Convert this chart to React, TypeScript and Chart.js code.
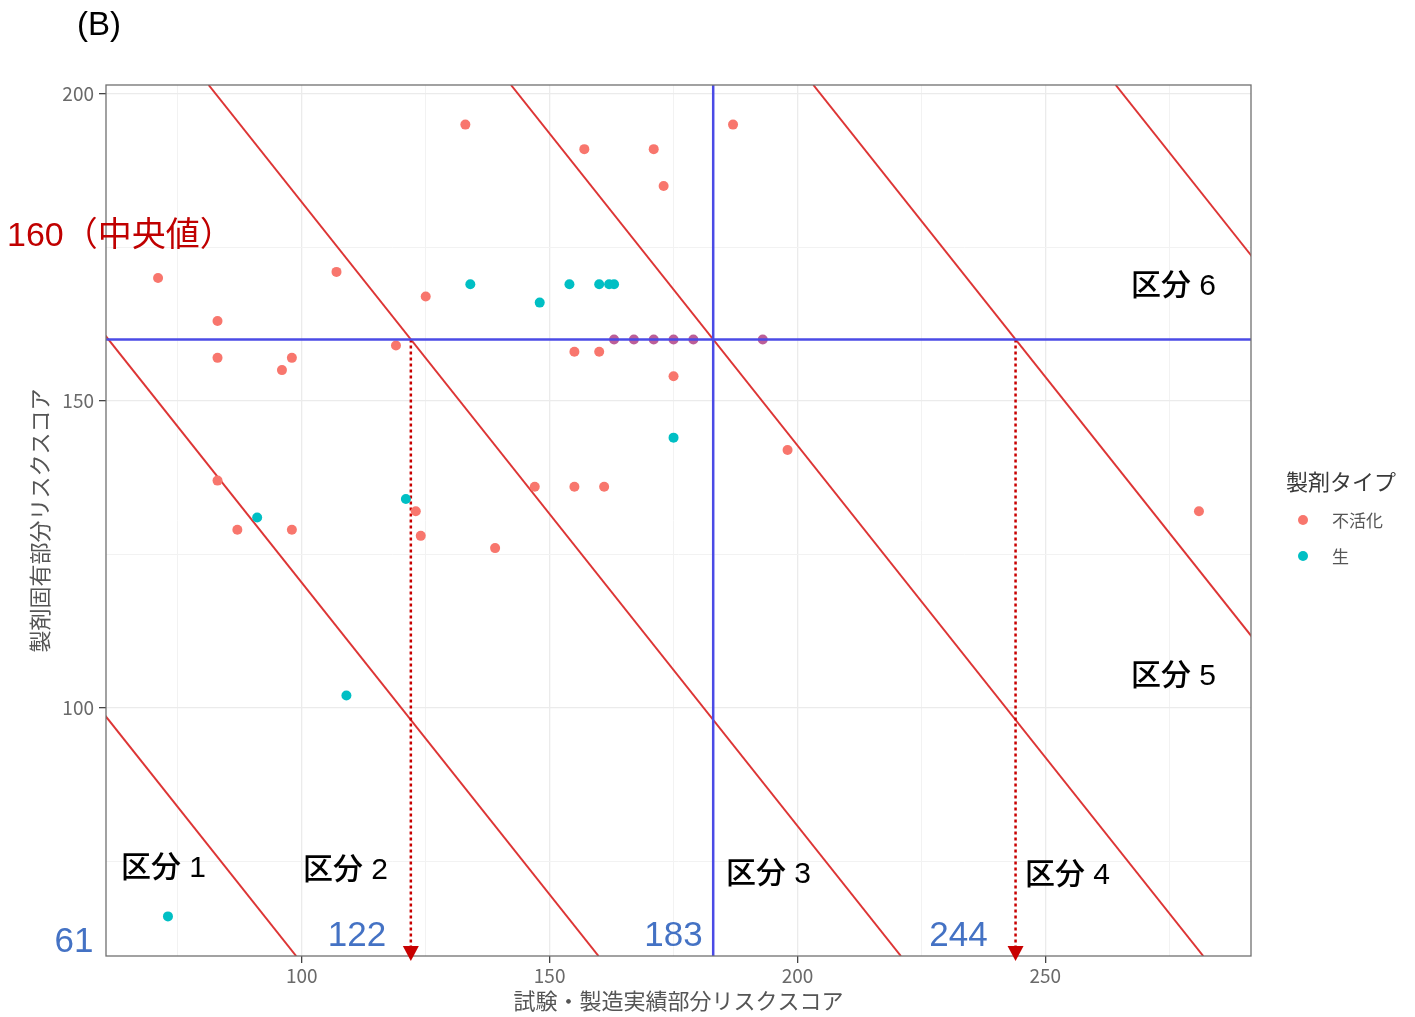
import React, { useEffect, useRef } from "react";
import { Chart, registerables } from "chart.js";

Chart.register(...registerables);

// ---- data ----
const inactivatedX = [133, 71, 107, 125, 83, 119, 83, 98, 96, 187, 157, 171, 173, 163, 167, 171, 175, 179, 193, 155, 160, 175, 83, 87, 98, 123, 124, 139, 198, 147, 155, 161, 281];
const inactivatedY = [195, 170, 171, 167, 163, 159, 157, 157, 155, 195, 191, 191, 185, 160, 160, 160, 160, 160, 160, 158, 158, 154, 137, 129, 129, 132, 128, 126, 142, 136, 136, 136, 132];
const liveX = [134, 154, 160, 162, 163, 148, 91, 121, 175, 109, 73];
const liveY = [169, 169, 169, 169, 169, 166, 131, 134, 144, 102, 66];

const seriesLabels = ["不活化", "生"];
const legendTitle = "製剤タイプ";
const xTitle = "試験・製造実績部分リスクスコア";
const yTitle = "製剤固有部分リスクスコア";
const panelLabel = "(B)";
const medianLabel = "160（中央値）";

const xMajorTicks = [100, 150, 200, 250];
const xMinorTicks = [75, 125, 175, 225, 275];
const yMajorTicks = [100, 150, 200];
const yMinorTicks = [75, 125, 175];

const medianX = 183;
const medianY = 160;
// zone boundary lines: pass through (anchor, medianY) with this slope
const diagonalAnchors = [0, 61, 122, 183, 244, 305];
const diagonalSlope = -1.016;
const boundaryX = [122, 244];
const boundaryLabels = ["61", "122", "183", "244"];
const zoneLabels = ["区分 1", "区分 2", "区分 3", "区分 4", "区分 5", "区分 6"];

// ---- styles ----
const RED = "#F8766D";
const TEAL = "#00BFC4";
const PURPLE = "#BC5E98";
const LINE_RED = "#DD3535";
const BLUE = "#4B4BE6";
const DOT_RED = "#C80000";
const NUM_BLUE = "#4472C4";

const allX = [...inactivatedX, ...liveX];
const allY = [...inactivatedY, ...liveY];
const expand = (arr: number[]) => {
  const lo = Math.min(...arr);
  const hi = Math.max(...arr);
  const pad = (hi - lo) * 0.05;
  return [lo - pad, hi + pad];
};
const [xMin, xMax] = expand(allX);
const [yMin, yMax] = expand(allY);

const toPoints = (xs: number[], ys: number[]) => xs.map((x, i) => ({ x, y: ys[i] }));

const CJK = '"Noto Sans CJK JP", "Noto Sans", sans-serif';
const LAT = '"Liberation Sans", "Noto Sans CJK JP", sans-serif';

const overlayPlugin = {
  id: "overlay",
  afterDraw(chart: any) {
    const { ctx, chartArea, scales } = chart;
    const xs = scales.x;
    ctx.save();
    // panel border
    ctx.strokeStyle = "#707070";
    ctx.lineWidth = 1.3;
    ctx.strokeRect(chartArea.left, chartArea.top, chartArea.right - chartArea.left, chartArea.bottom - chartArea.top);

    // arrow heads
    ctx.fillStyle = DOT_RED;
    boundaryX.forEach((bx) => {
      const px = xs.getPixelForValue(bx);
      const tip = chartArea.bottom + 5;
      ctx.beginPath();
      ctx.moveTo(px - 8, tip - 15);
      ctx.lineTo(px + 8, tip - 15);
      ctx.lineTo(px, tip);
      ctx.closePath();
      ctx.fill();
    });

    // panel label
    ctx.textBaseline = "middle";
    ctx.textAlign = "left";
    ctx.fillStyle = "#000";
    ctx.font = `33px ${LAT}`;
    ctx.fillText(panelLabel, 77, 26);

    // median label
    ctx.fillStyle = "#C00000";
    ctx.font = `34px ${LAT}`;
    ctx.fillText(medianLabel, 7, 237);

    // zone labels
    const zonePos = [
      [121, 869],
      [303, 871],
      [726, 875],
      [1025, 876],
      [1131, 677],
      [1131, 287],
    ];
    ctx.fillStyle = "#000";
    ctx.font = `500 30px ${LAT}`;
    zoneLabels.forEach((t, i) => ctx.fillText(t, zonePos[i][0], zonePos[i][1]));

    // boundary numbers
    const numPos = [
      [74, 942],
      [357, 936],
      [673.5, 936],
      [958.5, 936],
    ];
    ctx.fillStyle = NUM_BLUE;
    ctx.font = `35px ${LAT}`;
    ctx.textAlign = "center";
    boundaryLabels.forEach((t, i) => ctx.fillText(t, numPos[i][0], numPos[i][1]));

    // legend
    ctx.textAlign = "left";
    ctx.fillStyle = "#3a3a3a";
    ctx.font = `22px ${CJK}`;
    ctx.fillText(legendTitle, 1286, 482);
    const colors = [RED, TEAL];
    seriesLabels.forEach((t, i) => {
      const y = 521 + i * 36;
      ctx.fillStyle = colors[i];
      ctx.beginPath();
      ctx.arc(1303, y - 1, 5, 0, Math.PI * 2);
      ctx.fill();
      ctx.fillStyle = "#555";
      ctx.font = `17px ${CJK}`;
      ctx.fillText(t, 1332, y);
    });
    ctx.restore();
  },
};

export default function App() {
  const ref = useRef<HTMLCanvasElement | null>(null);
  useEffect(() => {
    if (!ref.current) return;
    const diagDatasets = diagonalAnchors.map((a) => ({
      type: "line" as const,
      data: [
        { x: a + (yMin - medianY) / diagonalSlope, y: yMin },
        { x: a + (yMax - medianY) / diagonalSlope, y: yMax },
      ],
      borderColor: LINE_RED,
      borderWidth: 2,
      pointRadius: 0,
      showLine: true,
      clip: 0,
      order: 5,
    }));
    const dotDatasets = boundaryX.map((bx) => ({
      type: "line" as const,
      data: [
        { x: bx, y: medianY },
        { x: bx, y: yMin },
      ],
      borderColor: DOT_RED,
      borderWidth: 2.5,
      borderDash: [3, 3],
      pointRadius: 0,
      showLine: true,
      clip: 0,
      order: 4,
    }));
    const blueDatasets = [
      {
        type: "line" as const,
        data: [
          { x: medianX, y: yMin },
          { x: medianX, y: yMax },
        ],
        borderColor: BLUE,
        borderWidth: 2.5,
        pointRadius: 0,
        showLine: true,
        clip: 0,
        order: 1,
      },
      {
        type: "line" as const,
        data: [
          { x: xMin, y: medianY },
          { x: xMax, y: medianY },
        ],
        borderColor: BLUE,
        borderWidth: 2.5,
        pointRadius: 0,
        showLine: true,
        clip: 0,
        order: 1,
      },
    ];
    const tickFont = { family: CJK, size: 19 };
    const tickColor = "#6a6a6a";
    const chart = new Chart(ref.current, {
      type: "scatter",
      data: {
        datasets: [
          ...diagDatasets,
          ...dotDatasets,
          {
            label: seriesLabels[0],
            data: toPoints(inactivatedX, inactivatedY),
            pointRadius: 5,
            pointBorderWidth: 0,
            pointBackgroundColor: (c: any) => (c.raw && c.raw.y === medianY ? PURPLE : RED),
            backgroundColor: RED,
            order: 2,
          },
          {
            label: seriesLabels[1],
            data: toPoints(liveX, liveY),
            pointRadius: 5,
            pointBorderWidth: 0,
            pointBackgroundColor: TEAL,
            backgroundColor: TEAL,
            order: 2,
          },
          ...blueDatasets,
        ] as any,
      },
      options: {
        animation: false,
        responsive: false,
        events: [],
        layout: { padding: { top: 85, right: 164, bottom: 0, left: 0 } },
        plugins: { legend: { display: false }, tooltip: { enabled: false } },
        scales: {
          x: {
            type: "linear",
            min: xMin,
            max: xMax,
            afterBuildTicks: (s: any) => {
              s.ticks = [...xMajorTicks, ...xMinorTicks].sort((a, b) => a - b).map((v) => ({ value: v }));
            },
            afterFit: (s: any) => {
              s.height = 61;
            },
            ticks: {
              callback: (v: any) => (xMajorTicks.includes(Number(v)) ? String(v) : ""),
              color: tickColor,
              font: tickFont,
              padding: 1,
              maxRotation: 0,
              autoSkip: false,
            },
            grid: {
              color: (c: any) => (xMajorTicks.includes(c.tick?.value) ? "#EBEBEB" : "#F2F2F2"),
              lineWidth: (c: any) => (xMajorTicks.includes(c.tick?.value) ? 1.3 : 1),
              tickColor: (c: any) => (xMajorTicks.includes(c.tick?.value) ? "#444" : "rgba(0,0,0,0)"),
              tickLength: 7,
              tickWidth: 1.3,
            },
            border: { display: false },
            title: {
              display: true,
              text: xTitle,
              color: "#555",
              font: { family: CJK, size: 22 },
              padding: { top: 0, bottom: 3 },
            },
          },
          y: {
            type: "linear",
            min: yMin,
            max: yMax,
            afterBuildTicks: (s: any) => {
              s.ticks = [...yMajorTicks, ...yMinorTicks].sort((a, b) => a - b).map((v) => ({ value: v }));
            },
            afterFit: (s: any) => {
              s.width = 106;
            },
            ticks: {
              callback: (v: any) => (yMajorTicks.includes(Number(v)) ? String(v) : ""),
              color: tickColor,
              font: tickFont,
              padding: 5,
              autoSkip: false,
            },
            grid: {
              color: (c: any) => (yMajorTicks.includes(c.tick?.value) ? "#EBEBEB" : "#F2F2F2"),
              lineWidth: (c: any) => (yMajorTicks.includes(c.tick?.value) ? 1.3 : 1),
              tickColor: (c: any) => (yMajorTicks.includes(c.tick?.value) ? "#444" : "rgba(0,0,0,0)"),
              tickLength: 7,
              tickWidth: 1.3,
            },
            border: { display: false },
            title: {
              display: true,
              text: yTitle,
              color: "#555",
              font: { family: CJK, size: 22 },
              padding: { top: 26, bottom: 0 },
            },
          },
        },
      },
      plugins: [overlayPlugin],
    } as any);
    return () => chart.destroy();
  }, []);
  return (
    <div style={{ position: "absolute", left: 0, top: 0, width: 1415, height: 1017, background: "#fff" }}>
      <canvas ref={ref} width={1415} height={1017} style={{ display: "block" }} />
    </div>
  );
}
